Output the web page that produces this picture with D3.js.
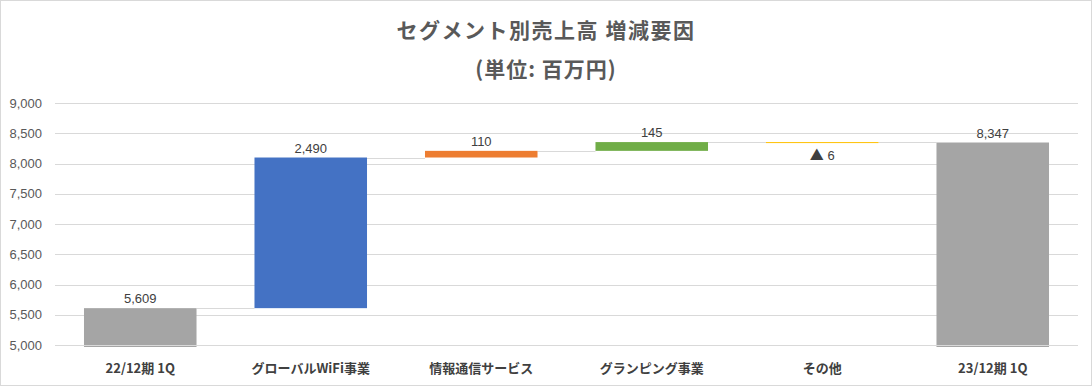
<!DOCTYPE html>
<meta charset="utf-8">
<style>
body { margin: 0; background: #fff; }
svg { display: block; }
.axis text { font-family: "Liberation Sans", Arial, sans-serif; font-size: 13px; fill: #595959; }
</style>
<body>
<svg class="chart"></svg>
<script src="https://cdn.jsdelivr.net/npm/d3@7/dist/d3.min.js"></script>
<script>
// categories and changes (百万円)
var categories = ["22/12期 1Q", "グローバルWiFi事業", "情報通信サービス", "グランピング事業", "その他", "23/12期 1Q"];
var kinds = ["total", "delta", "delta", "delta", "delta", "total"];
var values = [5609, 2490, 110, 145, -6, 8347];
var labels = ["5,609", "2,490", "110", "145", "6", "8,347"];
var colors = ["#a5a5a5", "#4472c4", "#ed7d31", "#70ad47", "#ffc000", "#a5a5a5"];
var yTicks = [5000, 5500, 6000, 6500, 7000, 7500, 8000, 8500, 9000];

var W = 1092, H = 386;
var plotLeft = 55, plotRight = 1078, plotTop = 103, plotBottom = 345;

var svg = d3.select("svg").attr("width", W).attr("height", H);

// outer frame
svg.append("rect").attr("x", 0.5).attr("y", 0.5).attr("width", W - 1).attr("height", H - 1)
  .attr("fill", "#fff").attr("stroke", "#d9d9d9");

// build waterfall segments
var run = 0;
var segs = values.map(function (v, i) {
  var s;
  if (kinds[i] == "total") { s = { from: 5000, to: v, end: v }; run = v; }
  else { s = { from: run, to: run + v, end: run + v }; run = run + v; }
  s.i = i; s.v = v;
  return s;
});

var x = d3.scaleBand().domain(categories).range([plotLeft, plotRight]).paddingInner(0.34).paddingOuter(0.17);
var y = d3.scaleLinear().domain([5000, 9000]).range([plotBottom, plotTop]);

// gridlines
svg.append("g").selectAll("line").data(yTicks.slice(1)).enter().append("line")
  .attr("x1", plotLeft).attr("x2", plotRight)
  .attr("y1", function (d) { return Math.round(y(d)) + 0.5; })
  .attr("y2", function (d) { return Math.round(y(d)) + 0.5; })
  .attr("stroke", "#d9d9d9");

// y axis labels
var ya = svg.append("g").attr("class", "axis").attr("transform", "translate(" + (plotLeft - 10) + ",0)")
  .call(d3.axisLeft(y).tickValues(yTicks).tickSize(0).tickFormat(d3.format(",")));
ya.select(".domain").remove();

// connectors
for (var i = 0; i < segs.length - 1; i++) {
  var yy = Math.round(y(segs[i].end)) + 0.5;
  svg.append("line")
    .attr("x1", x(categories[i]) + x.bandwidth()).attr("x2", x(categories[i + 1]))
    .attr("y1", yy).attr("y2", yy).attr("stroke", "#d9d9d9");
}

// bars
svg.append("g").selectAll("rect").data(segs).enter().append("rect")
  .attr("x", function (d) { return x(categories[d.i]); })
  .attr("width", x.bandwidth())
  .attr("y", function (d) { return y(Math.max(d.from, d.to)); })
  .attr("height", function (d) {
    var h = Math.abs(y(d.from) - y(d.to));
    if (kinds[d.i] == "total") h += 2;
    return Math.max(h, 1);
  })
  .attr("fill", function (d) { return colors[d.i]; });

// x axis line
svg.append("line").attr("x1", plotLeft).attr("x2", plotRight)
  .attr("y1", plotBottom + 0.5).attr("y2", plotBottom + 0.5).attr("stroke", "#d9d9d9");

// data labels
var dl = svg.append("g").selectAll("text").data(segs).enter().append("text")
  .attr("x", function (d) { return x(categories[d.i]) + x.bandwidth() / 2; })
  .attr("y", function (d) {
    if (d.v < 0) return y(Math.min(d.from, d.to)) + 18;
    return y(Math.max(d.from, d.to)) - 5;
  })
  .attr("text-anchor", "middle")
  .attr("font-family", "'Liberation Sans', Arial, sans-serif")
  .attr("font-size", "13px")
  .attr("fill", "#404040");
dl.each(function (d) {
  var t = d3.select(this);
  if (d.v < 0) {
    t.append("tspan").attr("font-family", "'Noto Sans CJK JP', sans-serif").attr("font-size", "14px").text("▲");
    t.append("tspan").text(" " + labels[d.i]);
  } else {
    t.text(labels[d.i]);
  }
});

// category labels
svg.append("g").selectAll("text").data(categories).enter().append("text")
  .attr("x", function (d) { return x(d) + x.bandwidth() / 2; })
  .attr("y", 373)
  .attr("text-anchor", "middle")
  .attr("font-family", "'Noto Sans CJK JP', sans-serif")
  .attr("font-size", "13px")
  .attr("font-weight", "bold")
  .attr("fill", "#404040")
  .text(function (d) { return d; });

// titles
svg.append("text").attr("x", W / 2).attr("y", 38).attr("text-anchor", "middle")
  .attr("font-family", "'Noto Sans CJK JP', sans-serif").attr("font-size", "21px")
  .attr("letter-spacing", "1.5px")
  .attr("font-weight", "bold").attr("fill", "#595959")
  .text("セグメント別売上高 増減要因");
svg.append("text").attr("x", W / 2).attr("y", 77).attr("text-anchor", "middle")
  .attr("font-family", "'Noto Sans CJK JP', sans-serif").attr("font-size", "21px")
  .attr("letter-spacing", "1px")
  .attr("font-weight", "bold").attr("fill", "#595959")
  .text("(単位: 百万円)");
</script>
</body>
</html>
